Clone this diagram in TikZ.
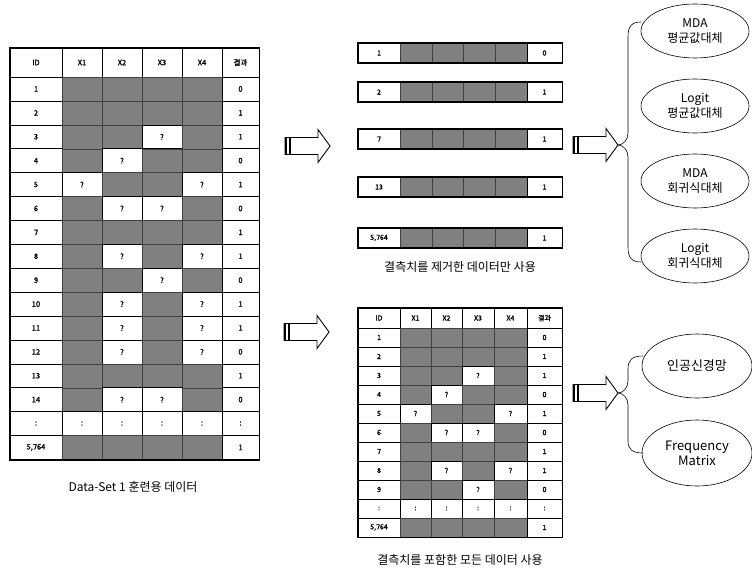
\documentclass[tikz,border=0pt]{standalone}
\usepackage{fontspec}
\setmainfont{Noto Sans CJK KR}
\newfontfamily\krb[FakeBold=1.5]{Noto Sans CJK KR}
\usetikzlibrary{shapes.geometric}
\definecolor{shade}{RGB}{128,128,128}
\tikzset{
  wcell/.style={draw=black, line width=0.6pt, fill=white, inner sep=0pt, font=\krb\fontsize{7.5}{8}\selectfont},
  bwcell/.style={wcell, font=\krb\fontsize{7}{8}\selectfont},
  gcell/.style={draw=black!75, line width=0.4pt, fill=shade, inner sep=0pt},
  frame/.style={draw=black, line width=1.6pt},
  ell/.style={ellipse, draw=black, line width=0.6pt, inner sep=0pt, align=center, font=\fontsize{12}{15}\selectfont},
  brace/.style={draw=black, line width=0.6pt},
  caption/.style={inner sep=0pt, font=\fontsize{12}{14}\selectfont},
  barrow/.style={draw=black, line width=0.9pt, fill=white, line join=miter},
}
\newcommand\mkcell[7]{%
  \if#1g
    \node[gcell, minimum width=#5, minimum height=#6] (#2) at (#3,#4) {};
  \else
    \node[#7, minimum width=#5, minimum height=#6] (#2) at (#3,#4) {\if#1q?\else:\fi};
  \fi}
\newcommand\blockarrow[3]{%
  \begin{scope}[shift={(#2,#3)}]
    \coordinate (#1-tail) at (0,0);
    \coordinate (#1-tip) at (45,0);
    \draw[barrow] (0,-8.5) -- (33,-8.5) -- (33,-16.5) -- (45,0) -- (33,16.5) -- (33,8.5) -- (0,8.5) -- cycle;
    \draw[line width=1.1pt] (5,-8.5) -- (5,8.5);
    \draw[line width=1.6pt] (0.8,-8.5) -- (0.8,8.5);
  \end{scope}}
\begin{document}
\begin{tikzpicture}[x=1pt,y=-1pt]
\useasboundingbox[fill=white] (0,0) rectangle (752,578);

% ---------- left table ----------
\foreach \t/\xc/\w [count=\k] in {ID/36/52, X1/82/40, X2/122/40, X3/162/40, X4/202/40, 결과/240.5/37}
  \node[wcell, minimum width=\w, minimum height=29] (LH\k) at (\xc,62.5) {\t};
\foreach \id/\a/\b/\c/\d/\r [count=\i] in {1/g/g/g/g/0, 2/g/g/g/g/1, 3/g/g/q/g/1, 4/g/q/g/g/0, 5/q/g/g/q/1, 6/g/q/q/g/0, 7/g/g/g/g/1, 8/g/q/g/q/1, 9/g/g/q/g/0, 10/g/q/g/q/1, 11/g/q/g/q/1, 12/g/q/g/q/0, 13/g/g/g/g/1, 14/g/q/q/g/0, :/c/c/c/c/:, {5,764}/g/g/g/g/1}{
  \pgfmathsetmacro\yc{77+(\i-0.5)*23.9}
  \node[wcell, minimum width=52, minimum height=23.9] (L\i-0) at (36,\yc) {\id};
  \mkcell{\a}{L\i-1}{82}{\yc}{40}{23.9}{wcell}
  \mkcell{\b}{L\i-2}{122}{\yc}{40}{23.9}{wcell}
  \mkcell{\c}{L\i-3}{162}{\yc}{40}{23.9}{wcell}
  \mkcell{\d}{L\i-4}{202}{\yc}{40}{23.9}{wcell}
  \node[wcell, minimum width=37, minimum height=23.9] (L\i-5) at (240.5,\yc) {\r};
}
\draw[frame] (LH1.north west) rectangle (L16-5.south east);
\node[caption] (capL) at (133,487) {Data-Set 1 훈련용 데이터};

% ---------- strips ----------
\foreach \id/\r/\yc [count=\s] in {1/0/53, 2/1/92, 7/1/139, 13/1/187, {5,764}/1/238}{
  \node[bwcell, minimum width=42, minimum height=19] (S\s-0) at (379,\yc) {\id};
  \foreach \q in {1,2,3,4}
    \node[gcell, minimum width=31.75, minimum height=19] (S\s-\q) at ({400+(\q-0.5)*31.75},\yc) {};
  \node[bwcell, minimum width=35, minimum height=19] (S\s-5) at (544.5,\yc) {\r};
  \draw[frame] (S\s-0.north west) rectangle (S\s-5.south east);
}
\node[caption] (capS) at (460,267) {결측치를 제거한 데이터만 사용};

% ---------- bottom table ----------
\foreach \t/\xc/\w [count=\k] in {ID/379/42, X1/415.5/31, X2/446.5/31, X3/478/32, X4/510.5/33, 결과/544.5/35}
  \node[bwcell, minimum width=\w, minimum height=20] (BH\k) at (\xc,318) {\t};
\foreach \id/\a/\b/\c/\d/\r [count=\i] in {1/g/g/g/g/0, 2/g/g/g/g/1, 3/g/g/q/g/1, 4/g/q/g/g/0, 5/q/g/g/q/1, 6/g/q/q/g/0, 7/g/g/g/g/1, 8/g/q/g/q/1, 9/g/g/q/g/0, :/c/c/c/c/:, {5,764}/g/g/g/g/1}{
  \pgfmathsetmacro\yc{328+(\i-0.5)*19}
  \node[bwcell, minimum width=42, minimum height=19] (B\i-0) at (379,\yc) {\id};
  \mkcell{\a}{B\i-1}{415.5}{\yc}{31}{19}{bwcell}
  \mkcell{\b}{B\i-2}{446.5}{\yc}{31}{19}{bwcell}
  \mkcell{\c}{B\i-3}{478}{\yc}{32}{19}{bwcell}
  \mkcell{\d}{B\i-4}{510.5}{\yc}{33}{19}{bwcell}
  \node[bwcell, minimum width=35, minimum height=19] (B\i-5) at (544.5,\yc) {\r};
}
\draw[frame] (BH1.north west) rectangle (B11-5.south east);
\node[caption] (capB) at (460,560) {결측치를 포함한 모든 데이터 사용};

% ---------- block arrows ----------
\blockarrow{A1}{285}{146}
\blockarrow{A2}{284}{332}
\blockarrow{A3}{573}{145}
\blockarrow{A4}{573}{393}

% ---------- right ellipses ----------
\node[ell, minimum width=108, minimum height=54] (E1) at (695,31) {MDA\\평균값대체};
\node[ell, minimum width=108, minimum height=54] (E2) at (695,106) {Logit\\평균값대체};
\node[ell, minimum width=108, minimum height=54] (E3) at (695,181) {MDA\\회귀식대체};
\node[ell, minimum width=108, minimum height=54] (E4) at (695,256) {Logit\\회귀식대체};
\node[ell, minimum width=110, minimum height=64, font=\fontsize{13}{15}\selectfont] (E5) at (697,366) {인공신경망};
\node[ell, minimum width=110, minimum height=66, font=\fontsize{13}{15}\selectfont] (E6) at (697,453) {Frequency\\Matrix};

% ---------- braces ----------
\coordinate (B1t) at (641,22);
\coordinate (B1b) at (641,262);
\draw[brace] (B1t) .. controls (631,22) and (628,27) .. (628,37) -- (628,133)
  .. controls (628,140) and (623,145) .. (A3-tip) .. controls (623,145) and (628,150) .. (628,157)
  -- (628,247) .. controls (628,257) and (631,262) .. (B1b);
\coordinate (B2t) at (643,356);
\coordinate (B2b) at (643,453);
\draw[brace] (B2t) .. controls (632,356) and (628,360) .. (628,369) -- (628,381)
  .. controls (628,388) and (623,393) .. (A4-tip) .. controls (623,393) and (628,398) .. (628,405)
  -- (628,441) .. controls (628,449) and (632,453) .. (B2b);
\end{tikzpicture}
\end{document}
